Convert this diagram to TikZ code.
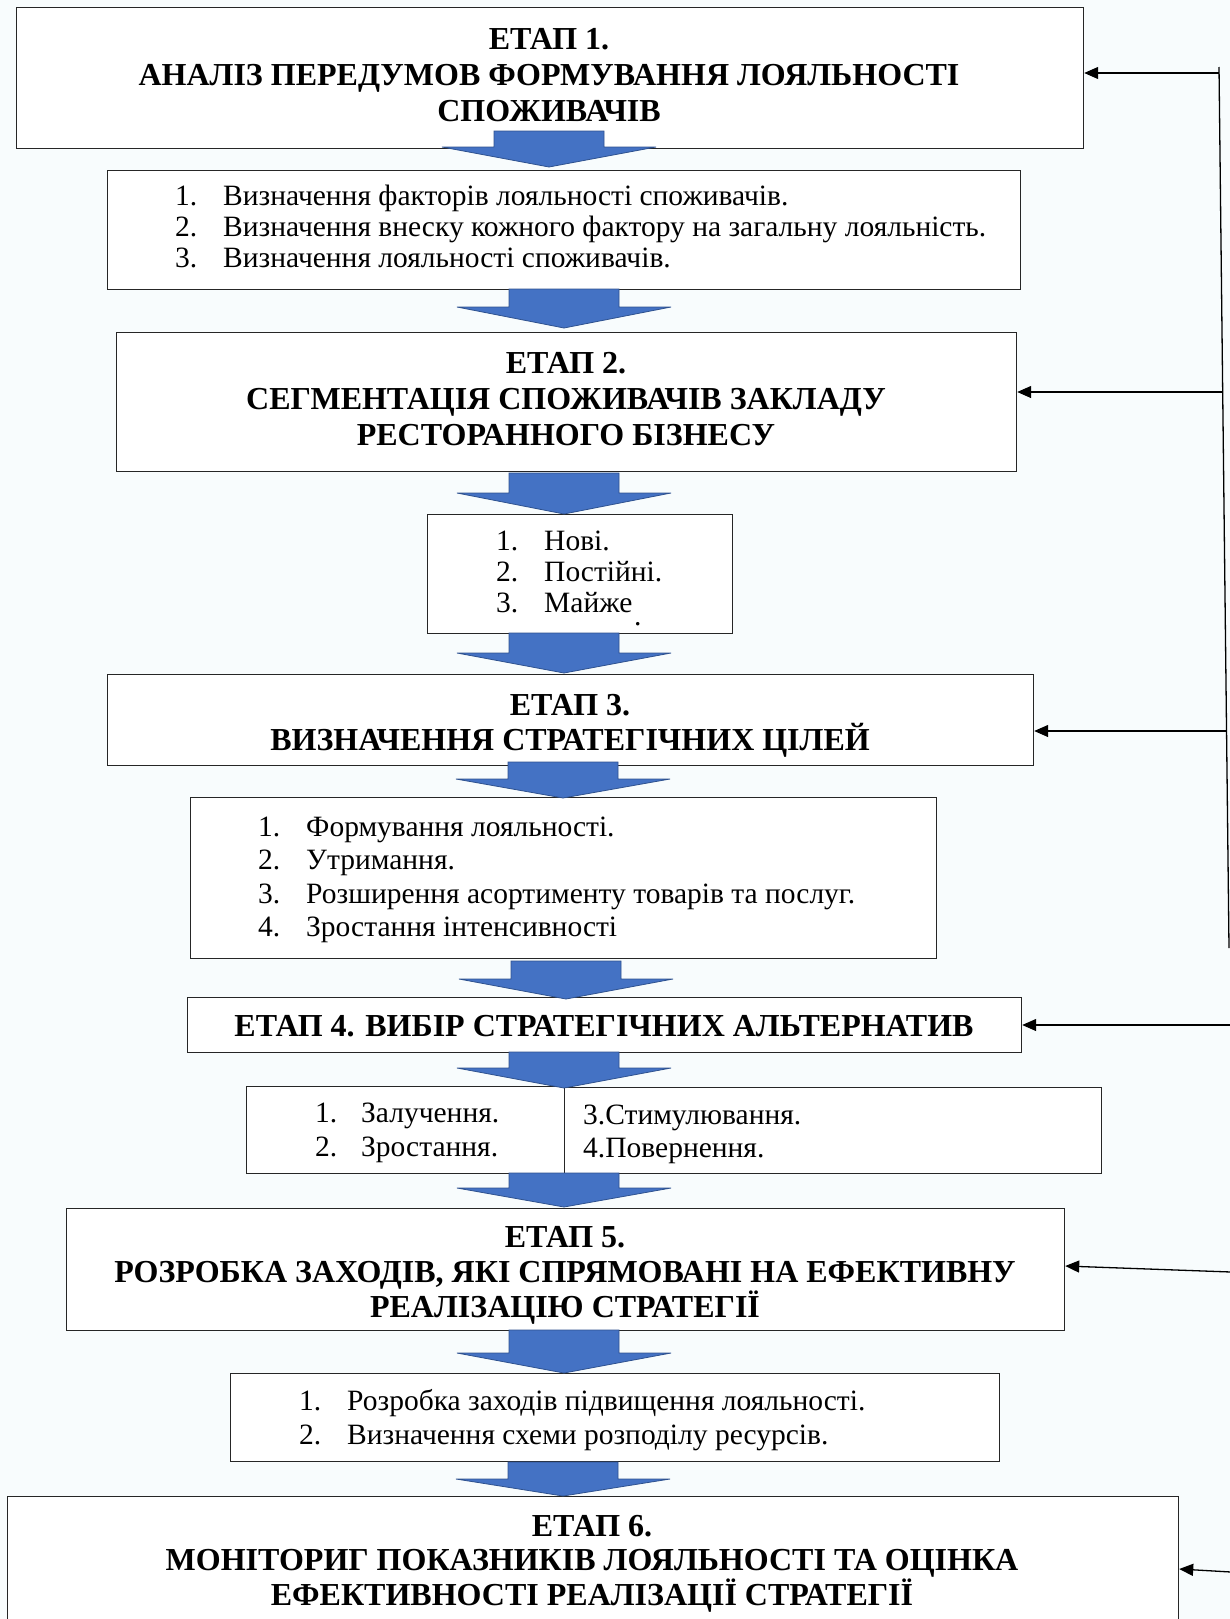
\documentclass[tikz,border=0pt]{standalone}
\usepackage{fontspec}
\setmainfont{Liberation Serif}
\usetikzlibrary{arrows.meta}
\definecolor{bgcol}{HTML}{F8FCFD}
\definecolor{arrfill}{HTML}{4472C4}
\definecolor{arrline}{HTML}{2F528F}
\newcommand{\bluearr}[4]{\filldraw[bluearrow] (#1-55,#2) -- (#1+55,#2) -- (#1+55,#3) -- (#1+107,#3) -- (#1,#4) -- (#1-107,#3) -- (#1-55,#3) -- cycle;}
\begin{document}
\begin{tikzpicture}[x=1pt,y=-1pt,
  box/.style={draw=black!85,fill=white,line width=1.2pt,inner sep=0pt,anchor=north west},
  tb/.style={font=\fontsize{32}{36}\selectfont\bfseries,inner sep=0pt,anchor=base},
  tr/.style={font=\fontsize{29.5}{30}\selectfont,inner sep=0pt,anchor=base west},
  bluearrow/.style={fill=arrfill,draw=arrline,line width=0.8pt},
  fb/.style={line width=1.3pt,-{Triangle[length=14pt,width=12pt]}},
  fbline/.style={line width=1.3pt}]
\useasboundingbox (0,0) rectangle (1230,1619);
\fill[bgcol] (0,0) rectangle (1230,1619);
\begin{scope}
\clip (0,0) rectangle (1230,1619);
% boxes
\node[box,minimum width=1067pt,minimum height=141pt] (b1) at (16,7) {};
\node[box,minimum width=913pt,minimum height=119pt] (b1a) at (107,170) {};
\node[box,minimum width=900pt,minimum height=139pt] (b2) at (116,332) {};
\node[box,minimum width=305pt,minimum height=119pt] (b2a) at (427,514) {};
\node[box,minimum width=926pt,minimum height=91pt] (b3) at (107,674) {};
\node[box,minimum width=746pt,minimum height=161pt] (b3a) at (190,797) {};
\node[box,minimum width=834pt,minimum height=55pt] (b4) at (187,997) {};
\node[box,minimum width=319pt,minimum height=87pt] (b4l) at (246,1086) {};
\node[box,minimum width=537pt,minimum height=86pt] (b4r) at (564,1087) {};
\node[box,minimum width=998pt,minimum height=122pt] (b5) at (66,1208) {};
\node[box,minimum width=769pt,minimum height=88pt] (b5a) at (230,1373) {};
\node[box,minimum width=1171pt,minimum height=140pt] (b6) at (7,1496) {};
% stage texts
\node[tb] (t1a) at (549,49) {ЕТАП 1.};
\node[tb] (t1b) at (549,85) {АНАЛІЗ ПЕРЕДУМОВ ФОРМУВАННЯ ЛОЯЛЬНОСТІ};
\node[tb] (t1c) at (549,121) {СПОЖИВАЧІВ};
\node[tb] (t2a) at (566,373) {ЕТАП 2.};
\node[tb] (t2b) at (566,409) {СЕГМЕНТАЦІЯ СПОЖИВАЧІВ ЗАКЛАДУ};
\node[tb] (t2c) at (566,445) {РЕСТОРАННОГО БІЗНЕСУ};
\node[tb] (t3a) at (570,715) {ЕТАП 3.};
\node[tb] (t3b) at (570,750) {ВИЗНАЧЕННЯ СТРАТЕГІЧНИХ ЦІЛЕЙ};
\node[tb] (t4a) at (604,1036) {ЕТАП 4. ВИБІР СТРАТЕГІЧНИХ АЛЬТЕРНАТИВ};
\node[tb] (t5a) at (565,1247) {ЕТАП 5.};
\node[tb] (t5b) at (565,1282) {РОЗРОБКА ЗАХОДІВ, ЯКІ СПРЯМОВАНІ НА ЕФЕКТИВНУ};
\node[tb] (t5c) at (565,1317) {РЕАЛІЗАЦІЮ СТРАТЕГІЇ};
\node[tb] (t6a) at (592,1536) {ЕТАП 6.};
\node[tb] (t6b) at (592,1570) {МОНІТОРИГ ПОКАЗНИКІВ ЛОЯЛЬНОСТІ ТА ОЦІНКА};
\node[tb] (t6c) at (592,1605) {ЕФЕКТИВНОСТІ РЕАЛІЗАЦІЇ СТРАТЕГІЇ};
% list 1
\node[tr] (n11) at (175,205) {1.};
\node[tr] (x11) at (223,205) {Визначення факторів лояльності споживачів.};
\node[tr] (n12) at (175,236) {2.};
\node[tr] (x12) at (223,236) {Визначення внеску кожного фактору на загальну лояльність.};
\node[tr] (n13) at (175,267) {3.};
\node[tr] (x13) at (223,267) {Визначення лояльності споживачів.};
% list 2
\node[tr] (n21) at (496,550) {1.};
\node[tr] (x21) at (544,550) {Нові.};
\node[tr] (n22) at (496,581) {2.};
\node[tr] (x22) at (544,581) {Постійні.};
\node[tr] (n23) at (496,612) {3.};
\node[tr] (x23) at (544,612) {Майже};
\node[tr] (dot2) at (634,625) {.};
% list 3
\node[tr] (n31) at (258,836) {1.};
\node[tr] (x31) at (306,836) {Формування лояльності.};
\node[tr] (n32) at (258,869) {2.};
\node[tr] (x32) at (306,869) {Утримання.};
\node[tr] (n33) at (258,903) {3.};
\node[tr] (x33) at (306,903) {Розширення асортименту товарів та послуг.};
\node[tr] (n34) at (258,936) {4.};
\node[tr] (x34) at (306,936) {Зростання інтенсивності};
% list 4
\node[tr] (n41) at (315,1122) {1.};
\node[tr] (x41) at (361,1122) {Залучення.};
\node[tr] (n42) at (315,1156) {2.};
\node[tr] (x42) at (361,1156) {Зростання.};
\node[tr] (x43) at (583,1124) {3.Стимулювання.};
\node[tr] (x44) at (583,1157) {4.Повернення.};
% list 5
\node[tr] (n51) at (299,1410) {1.};
\node[tr] (x51) at (347,1410) {Розробка заходів підвищення лояльності.};
\node[tr] (n52) at (299,1444) {2.};
\node[tr] (x52) at (347,1444) {Визначення схеми розподілу ресурсів.};
% blue arrows
\bluearr{549}{131}{147}{167}
\bluearr{564}{289}{307}{328}
\bluearr{564}{473}{493}{514}
\bluearr{564}{633}{653}{673}
\bluearr{563}{762}{779}{798}
\bluearr{566}{961}{979}{999}
\bluearr{564}{1052}{1068}{1088}
\bluearr{564}{1173}{1188}{1207}
\bluearr{564}{1330}{1353}{1373}
\bluearr{563}{1462}{1479}{1496}
% feedback
\coordinate (vtop) at (1219,67);
\coordinate (vbot) at (1229,948);
\coordinate (v1) at (1219,73);
\coordinate (v2) at (1222.7,392);
\coordinate (v3) at (1226.5,731);
\coordinate (e4) at (1231,1025);
\coordinate (e5) at (1231,1272);
\coordinate (e6) at (1231,1572);
\draw[fbline] (vtop) -- (vbot);
\draw[fb] (v1) -- (v1 -| b1.east);
\draw[fb] (v2) -- (v2 -| b2.east);
\draw[fb] (v3) -- (v3 -| b3.east);
\draw[fb] (e4) -- (e4 -| b4.east);
\draw[fb] (e5) -- ([yshift=6pt]e5 -| b5.east);
\draw[fb] (e6) -- ([yshift=3pt]e6 -| b6.east);
\end{scope}
\end{tikzpicture}
\end{document}
